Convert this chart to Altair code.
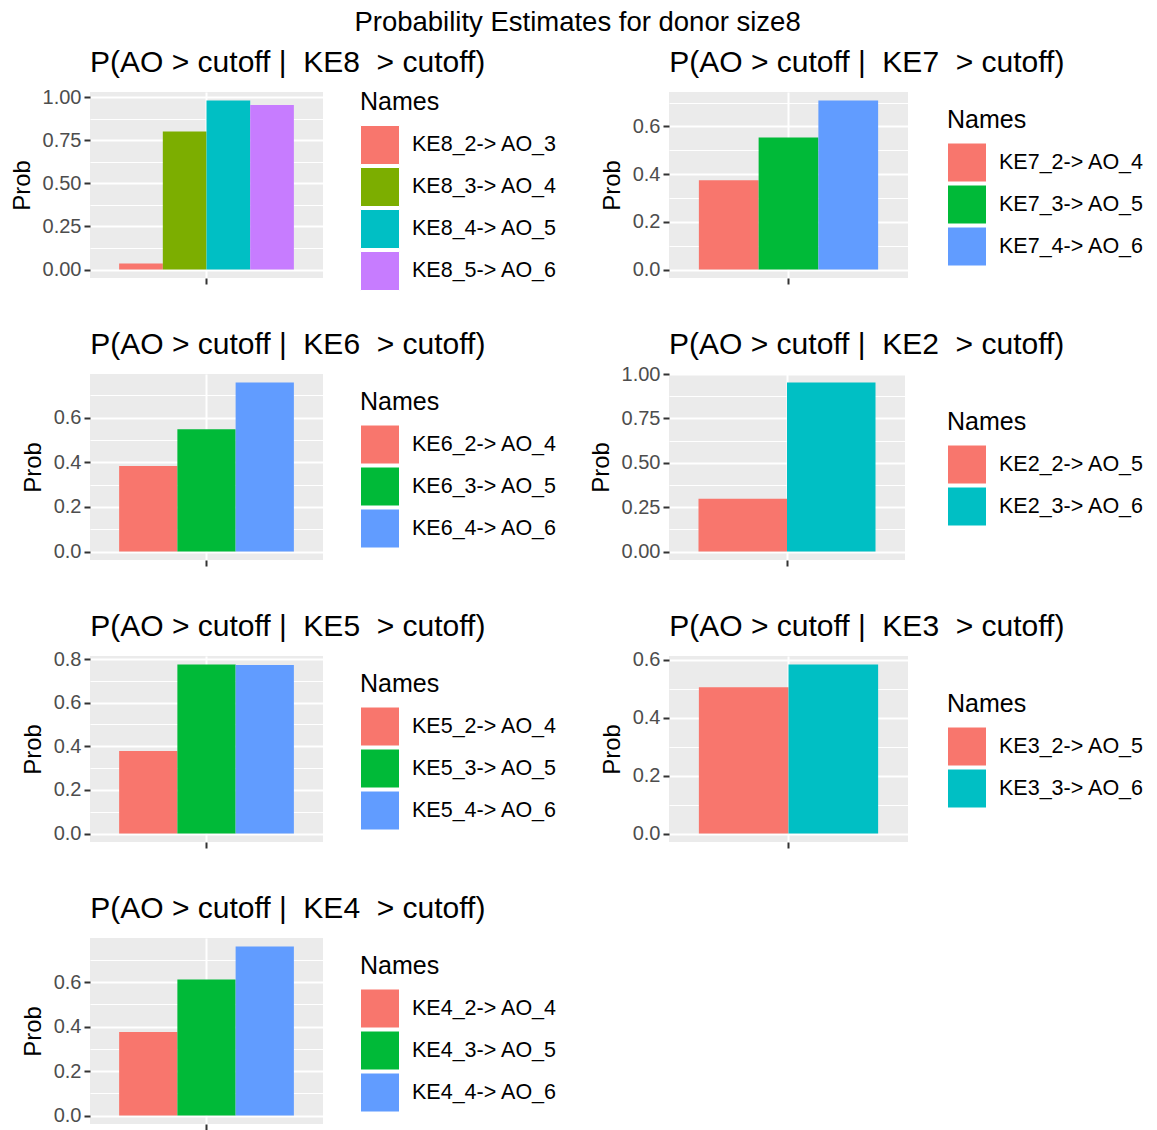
import altair as alt
import pandas as pd

MAIN_TITLE = "Probability Estimates for donor size8"

ke8_names = ["KE8_2-> AO_3", "KE8_3-> AO_4", "KE8_4-> AO_5", "KE8_5-> AO_6"]
ke8_probs = [0.035, 0.800, 0.980, 0.953]
ke7_names = ["KE7_2-> AO_4", "KE7_3-> AO_5", "KE7_4-> AO_6"]
ke7_probs = [0.374, 0.554, 0.709]
ke6_names = ["KE6_2-> AO_4", "KE6_3-> AO_5", "KE6_4-> AO_6"]
ke6_probs = [0.383, 0.548, 0.757]
ke2_names = ["KE2_2-> AO_5", "KE2_3-> AO_6"]
ke2_probs = [0.298, 0.953]
ke5_names = ["KE5_2-> AO_4", "KE5_3-> AO_5", "KE5_4-> AO_6"]
ke5_probs = [0.378, 0.775, 0.772]
ke3_names = ["KE3_2-> AO_5", "KE3_3-> AO_6"]
ke3_probs = [0.504, 0.583]
ke4_names = ["KE4_2-> AO_4", "KE4_3-> AO_5", "KE4_4-> AO_6"]
ke4_probs = [0.376, 0.612, 0.761]

hue4 = ["#F8766D", "#7CAE00", "#00BFC4", "#C77CFF"]
hue3 = ["#F8766D", "#00BA38", "#619CFF"]
hue2 = ["#F8766D", "#00BFC4"]

major_q = [0.0, 0.25, 0.5, 0.75, 1.0]
minor_q = [0.125, 0.375, 0.625, 0.875]
major_f = [0.0, 0.2, 0.4, 0.6]
major_f8 = [0.0, 0.2, 0.4, 0.6, 0.8]
minor_f = [0.1, 0.3, 0.5, 0.7]

H = 186
FONT = "Liberation Sans"


def panel(key, names, probs, colors, majors, minors, fmt, width, gap):
    n = len(names)
    df = pd.DataFrame({"Names": names, "Prob": probs})
    top = max(probs) * 1.05
    bottom = -max(probs) * 0.05
    step = majors[1] - majors[0]
    is_major = f"abs(datum.value / {step} - round(datum.value / {step})) < 0.001"
    legend_h = 35 + 40 * n
    legend_y = max((H - legend_h) / 2, -2)
    # keep the panel title at a constant distance above the plot area even when
    # the top tick label or the legend sticks out above it
    top_major = max(m for m in majors if m <= top + 1e-9)
    dist = (top - top_major) / (top - bottom) * H
    overhang = max(0.0, 10 - dist, -legend_y)
    title = "P(AO > cutoff |\u00a0 " + key + "\u00a0 > cutoff)"
    title_dx = 80 if fmt == ".2f" else 69
    return alt.Chart(df).mark_bar().encode(
        x=alt.X("Names:N", sort=names, title=None,
                scale=alt.Scale(paddingInner=0, paddingOuter=n / 6),
                # single x position of the ggplot panel = centre of the dodged group
                axis=alt.Axis(values=[names[n // 2]], bandPosition=0.5 if n % 2 else 0,
                              labels=False, domain=False, ticks=True, tickSize=6,
                              tickWidth=2, tickColor="#333333", grid=True,
                              gridColor="white", gridWidth=2)),
        y=alt.Y("Prob:Q", title="Prob",
                scale=alt.Scale(domain=[bottom, top], nice=False, zero=False),
                axis=alt.Axis(values=sorted(majors + minors),
                              labelExpr=f"({is_major}) ? format(datum.value, '{fmt}') : ''",
                              tickOpacity={"condition": {"test": is_major, "value": 1}, "value": 0},
                              gridWidth={"condition": {"test": is_major, "value": 2}, "value": 1},
                              gridColor="white", domain=False, tickSize=6, tickWidth=2,
                              tickColor="#333333", labelColor="#4D4D4D", labelFontSize=20,
                              labelPadding=3, titleFontSize=24, titleFontWeight="normal",
                              titleColor="black", titlePadding=8)),
        color=alt.Color("Names:N", sort=names,
                        scale=alt.Scale(domain=names, range=colors),
                        legend=alt.Legend(title="Names", orient="none",
                                          legendX=width + gap, legendY=legend_y)),
    ).properties(
        width=width, height=H,
        title=alt.TitleParams(title, anchor="start", fontSize=30, dx=title_dx,
                              fontWeight="normal", color="black", font=FONT,
                              offset=14 - overhang),
    )


p1 = panel("KE8", ke8_names, ke8_probs, hue4, major_q, minor_q, ".2f", 233, 37)
p2 = panel("KE7", ke7_names, ke7_probs, hue3, major_f, minor_f, ".1f", 239, 39)
p3 = panel("KE6", ke6_names, ke6_probs, hue3, major_f, minor_f, ".1f", 233, 37)
p4 = panel("KE2", ke2_names, ke2_probs, hue2, major_q, minor_q, ".2f", 236, 42)
p5 = panel("KE5", ke5_names, ke5_probs, hue3, major_f8, minor_f, ".1f", 233, 37)
p6 = panel("KE3", ke3_names, ke3_probs, hue2, major_f, minor_f[:3], ".1f", 239, 39)
p7 = panel("KE4", ke4_names, ke4_probs, hue3, major_f, minor_f, ".1f", 233, 37)

chart = alt.concat(
    p1, p2, p3, p4, p5, p6, p7, columns=2, bounds="flush",
    spacing={"row": 96, "column": 346},
).resolve_scale(color="independent").properties(
    title=alt.TitleParams(MAIN_TITLE, anchor="middle", fontSize=27.5, fontWeight="normal",
                          color="black", font=FONT, offset=12),
    padding={"left": 10, "top": 8, "right": 5, "bottom": 0},
).configure(
    font=FONT,
).configure_view(
    fill="#EBEBEB", stroke=None,
).configure_axis(
    labelFont=FONT, titleFont=FONT,
).configure_legend(
    titleFont=FONT, labelFont=FONT, titleFontSize=25, titleFontWeight="normal",
    titleColor="black", labelFontSize=21.5, labelColor="black", symbolType="square",
    symbolSize=1521, symbolStrokeColor="white", symbolStrokeWidth=1, symbolOpacity=1,
    rowPadding=-6, titlePadding=10, padding=0, labelOffset=12, labelLimit=400,
)

chart.save("out.html", embed_options={"renderer": "svg", "actions": False})
